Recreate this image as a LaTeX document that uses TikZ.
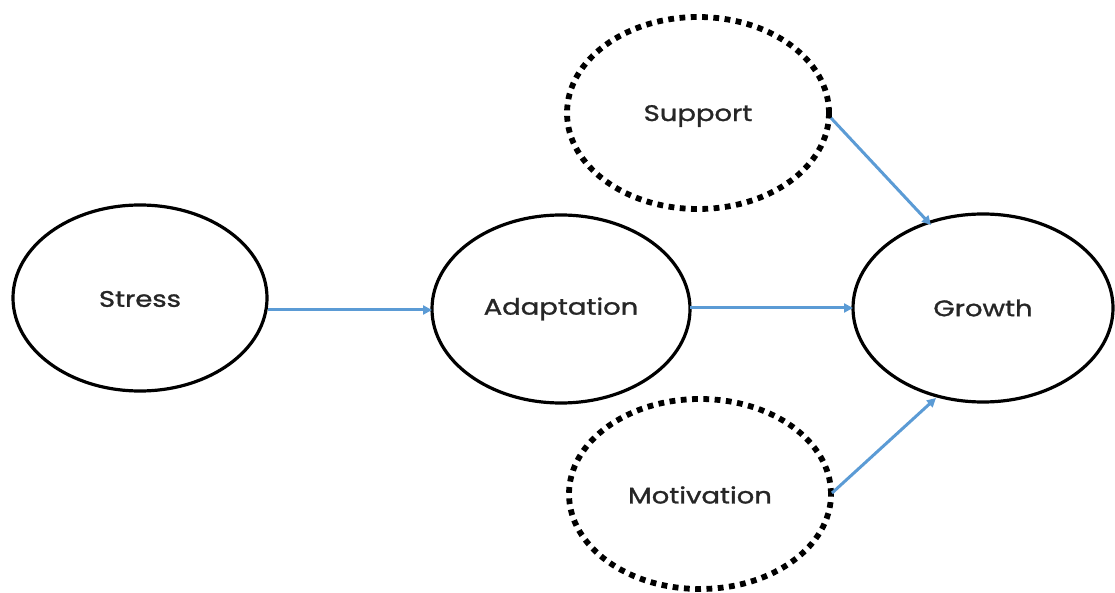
\documentclass[tikz,border=0pt]{standalone}
\usepackage{fontspec}
\setmainfont{Poppins}
\newfontfamily\lblfont{Poppins}[FakeStretch=1.22, FakeBold=1.3]
\usetikzlibrary{arrows.meta}
\definecolor{arrowblue}{RGB}{91,155,213}
\tikzset{
  solid ellipse/.style={draw=black, line width=3.2pt},
  dotted ellipse/.style={draw=black, line width=5.8pt, dash pattern=on 5.8pt off 5.5pt},
  lbl/.style={font=\lblfont\fontsize{22.5}{25}\selectfont, text=black!85},
  conn/.style={draw=arrowblue, line width=3pt, -{Triangle[length=9pt,width=9pt]}}
}
\begin{document}
\begin{tikzpicture}[x=1pt,y=1pt]
\useasboundingbox (0,0) rectangle (1115,592);
% ellipses
\draw[solid ellipse] (140,294) ellipse [x radius=127, y radius=93];
\draw[solid ellipse] (561,283) ellipse [x radius=129, y radius=94];
\draw[solid ellipse] (983,284) ellipse [x radius=130, y radius=94];
\draw[dotted ellipse] (698,479) ellipse [x radius=131, y radius=96];
\draw[dotted ellipse] (700,98) ellipse [x radius=131, y radius=95];
% labels
\node[lbl] (stress) at (140,293) {Stress};
\node[lbl] (adapt) at (561,283) {Adaptation};
\node[lbl] (growth) at (983,284) {Growth};
\node[lbl] (support) at (698,476) {Support};
\node[lbl] (motiv) at (700,97) {Motivation};
% connector anchors on ellipse borders
\coordinate (s-e) at (268,282);
\coordinate (a-w) at (432,282);
\coordinate (a-e) at (690,284);
\coordinate (g-w) at (853,284);
\coordinate (sup-e) at (831,474);
\coordinate (g-nw) at (931,367);
\coordinate (mot-e) at (832,99);
\coordinate (g-sw) at (936,194);
\draw[conn] (s-e) -- (a-w);
\draw[conn] (a-e) -- (g-w);
\draw[conn] (sup-e) -- (g-nw);
\draw[conn] (mot-e) -- (g-sw);
\end{tikzpicture}
\end{document}
